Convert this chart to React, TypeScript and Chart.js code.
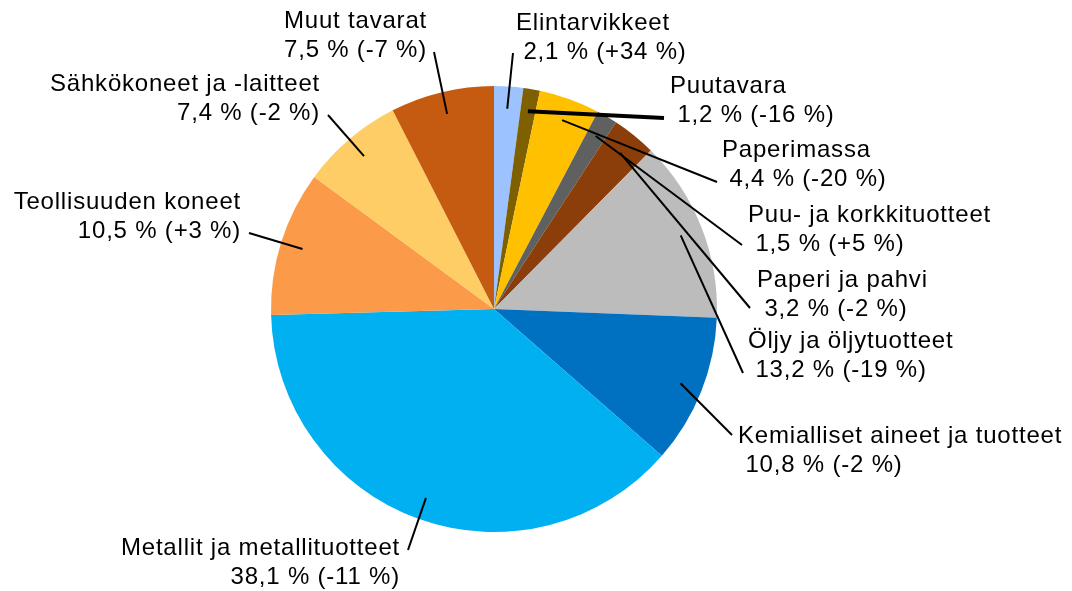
import React, { useEffect, useRef } from "react";
import { Chart, registerables } from "chart.js";

Chart.register(...registerables);

const categories = [
  "Elintarvikkeet",
  "Puutavara",
  "Paperimassa",
  "Puu- ja korkkituotteet",
  "Paperi ja pahvi",
  "Öljy ja öljytuotteet",
  "Kemialliset aineet ja tuotteet",
  "Metallit ja metallituotteet",
  "Teollisuuden koneet",
  "Sähkökoneet ja -laitteet",
  "Muut tavarat",
];

const shares = [2.1, 1.2, 4.4, 1.5, 3.2, 13.2, 10.8, 38.1, 10.5, 7.4, 7.5];
const changes = ["+34", "-16", "-20", "+5", "-2", "-19", "-2", "-11", "+3", "-2", "-7"];

const colors = [
  "#9CC2FF",
  "#7F6000",
  "#FFC000",
  "#5F6060",
  "#8B3E0A",
  "#BBBCBB",
  "#0070C0",
  "#00B0F0",
  "#FB9A48",
  "#FFCD65",
  "#C55A11",
];

// label layout: anchor x (left edge for "left", right edge for "right"), first baseline y, leader end point, leader width
const labelLayout = [
  { x: 516, y: 30, align: "left", ex: 513, ey: 53, lw: 2 },
  { x: 670, y: 93, align: "left", ex: 664, ey: 118, lw: 4 },
  { x: 722, y: 157, align: "left", ex: 717, ey: 182, lw: 2 },
  { x: 748, y: 222, align: "left", ex: 742, ey: 245, lw: 2 },
  { x: 757, y: 287, align: "left", ex: 750, ey: 308, lw: 2 },
  { x: 748, y: 348, align: "left", ex: 743, ey: 373, lw: 2 },
  { x: 738, y: 443, align: "left", ex: 732, ey: 435, lw: 2 },
  { x: 400, y: 555, align: "right", ex: 408, ey: 550, lw: 2 },
  { x: 241, y: 209, align: "right", ex: 249, ey: 233, lw: 2 },
  { x: 320, y: 91, align: "right", ex: 328, ey: 115, lw: 2 },
  { x: 427, y: 28, align: "right", ex: 434, ey: 52, lw: 2 },
];

const fmt = (v: number) => v.toFixed(1).replace(".", ",");

const labelPlugin = {
  id: "pieLabels",
  afterDatasetsDraw(chart: any) {
    const ctx = chart.ctx;
    const meta = chart.getDatasetMeta(0);
    ctx.save();
    ctx.font = "24px 'Liberation Sans', Arial, sans-serif";
    try {
      (ctx as any).letterSpacing = "0.8px";
    } catch (e) {}
    ctx.fillStyle = "#000";
    ctx.strokeStyle = "#000";
    ctx.textBaseline = "alphabetic";
    meta.data.forEach((arc: any, i: number) => {
      const p = arc.getProps(["x", "y", "startAngle", "endAngle", "outerRadius"], true);
      const mid = (p.startAngle + p.endAngle) / 2;
      const sx = p.x + Math.cos(mid) * p.outerRadius * 0.9;
      const sy = p.y + Math.sin(mid) * p.outerRadius * 0.9;
      const L = labelLayout[i];
      ctx.lineWidth = L.lw;
      ctx.beginPath();
      ctx.moveTo(sx, sy);
      ctx.lineTo(L.ex, L.ey);
      ctx.stroke();
      const line1 = categories[i];
      const line2 = (L.align === "left" ? " " : "") + fmt(shares[i]) + " % (" + changes[i] + " %)";
      ctx.textAlign = L.align as CanvasTextAlign;
      ctx.fillText(line1, L.x, L.y);
      ctx.fillText(line2, L.x, L.y + 29);
    });
    ctx.restore();
  },
};

export default function App() {
  const ref = useRef<HTMLCanvasElement | null>(null);
  useEffect(() => {
    document.body.style.margin = "0";
    const canvas = ref.current!;
    const chart = new Chart(canvas, {
      type: "pie",
      data: {
        labels: categories,
        datasets: [
          {
            data: shares,
            backgroundColor: colors,
            borderWidth: 0,
          },
        ],
      },
      options: {
        responsive: false,
        animation: false,
        layout: { padding: { left: 271, right: 355, top: 86, bottom: 59 } },
        plugins: {
          legend: { display: false },
          tooltip: { enabled: false },
        },
      },
      plugins: [labelPlugin],
    });
    return () => chart.destroy();
  }, []);
  return (
    <div style={{ width: 1072, height: 591, background: "#fff" }}>
      <canvas ref={ref} width={1072} height={591} style={{ display: "block" }} />
    </div>
  );
}
